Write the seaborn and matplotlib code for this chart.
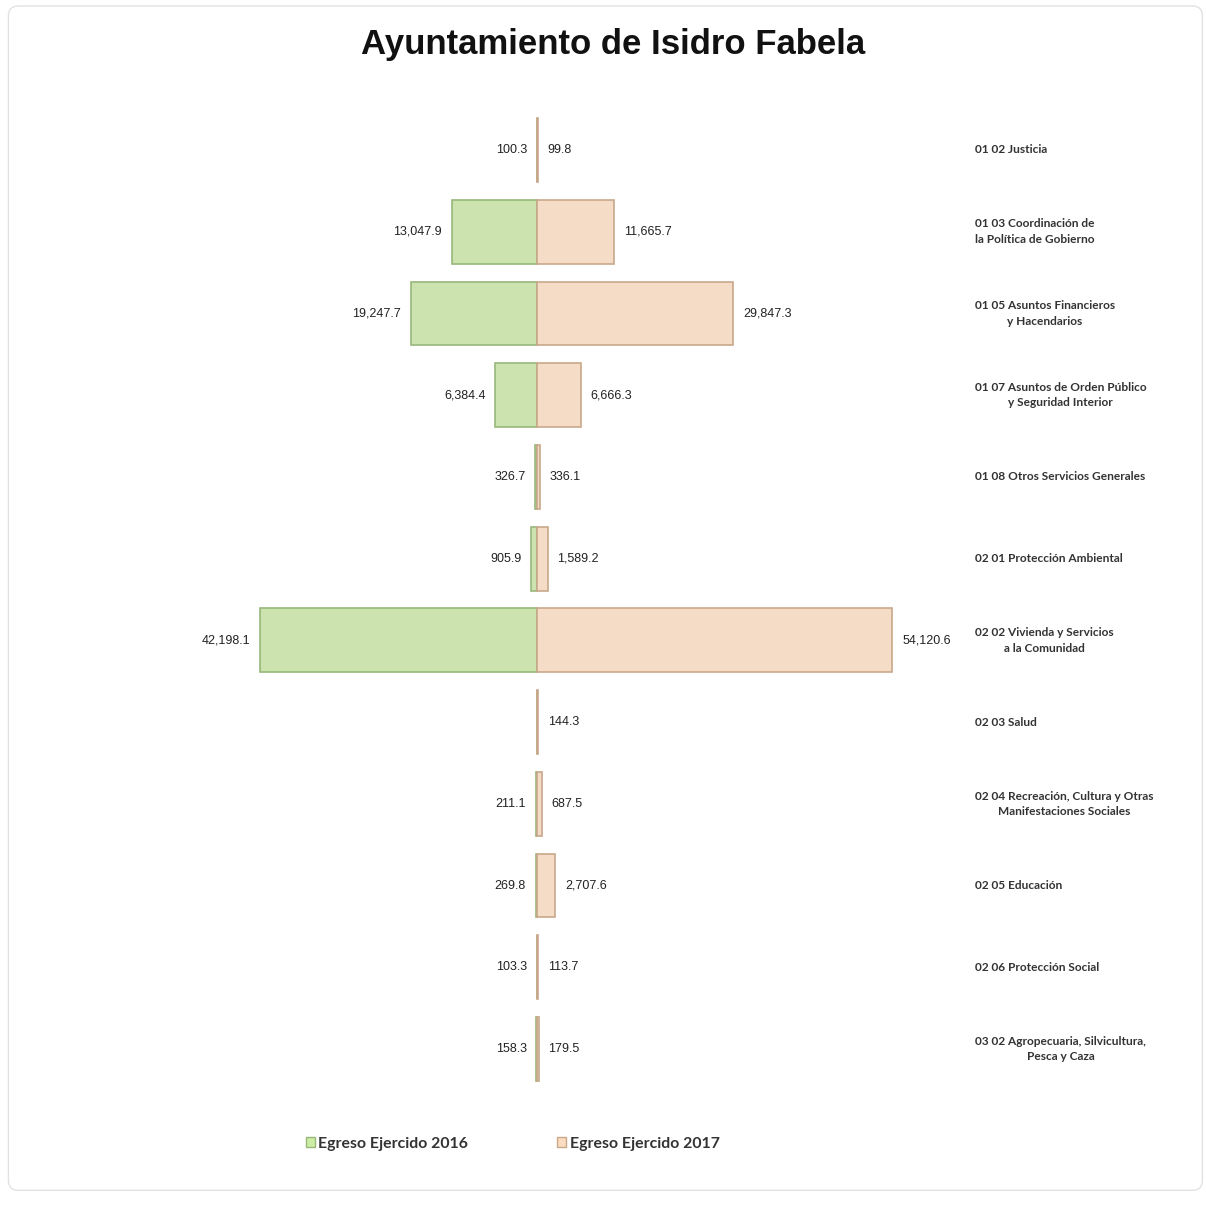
import numpy as np
import pandas as pd
import matplotlib
matplotlib.use("Agg")
import matplotlib.pyplot as plt
import seaborn as sns
from matplotlib.patches import FancyBboxPatch

# datos de la gráfica
categorias = ["01 02 Justicia",
              "01 03 Coordinación de\nla Política de Gobierno",
              "01 05 Asuntos Financieros\ny Hacendarios",
              "01 07 Asuntos de Orden Público\ny Seguridad Interior",
              "01 08 Otros Servicios Generales",
              "02 01 Protección Ambiental",
              "02 02 Vivienda y Servicios\na la Comunidad",
              "02 03 Salud",
              "02 04 Recreación, Cultura y Otras\nManifestaciones Sociales",
              "02 05 Educación",
              "02 06 Protección Social",
              "03 02 Agropecuaria, Silvicultura,\nPesca y Caza"]
egreso_2016 = [100.3, 13047.9, 19247.7, 6384.4, 326.7, 905.9, 42198.1, 0.0, 211.1, 269.8, 103.3, 158.3]
egreso_2017 = [99.8, 11665.7, 29847.3, 6666.3, 336.1, 1589.2, 54120.6, 144.3, 687.5, 2707.6, 113.7, 179.5]
series = ["Egreso Ejercido 2016", "Egreso Ejercido 2017"]

sns.set_style("white")
plt.rcParams['font.family'] = ['Liberation Sans', 'DejaVu Sans']

df = pd.DataFrame({
    'cat': categorias * 2,
    'serie': [series[0]] * len(categorias) + [series[1]] * len(categorias),
    'valor': [-v for v in egreso_2016] + egreso_2017,
})

fig = plt.figure(figsize=(12.06, 12.06), dpi=100)
ax = fig.add_axes([0.2007, 0.0962, 0.5713, 0.8134])

colores = {series[0]: '#cdeca6', series[1]: '#fbdcc0'}
bordes = ['#98b87a', '#c9a88a']
sns.barplot(data=df, y='cat', x='valor', hue='serie', dodge=False, orient='h',
            palette=colores, width=0.78, ax=ax, legend=False)

for i, cont in enumerate(ax.containers):
    for p in cont:
        p.set_edgecolor(bordes[i])
        p.set_linewidth(1.2)
    vals = egreso_2016 if i == 0 else egreso_2017
    etiquetas = [f"{v:,.1f}" if v > 0 else "" for v in vals]
    ax.bar_label(cont, labels=etiquetas, padding=7, fontsize=9, color='#222222')

ax.set_xlim(-45000, 60000)
ax.set_ylim(len(categorias) - 0.5, -0.5)
ax.set_xticks([])
ax.set_yticks([])
ax.set_xlabel("")
ax.set_ylabel("")
sns.despine(ax=ax, left=True, bottom=True)

# etiquetas de categoria a la derecha
for i, c in enumerate(categorias):
    ax.text(1.0639, i, c, transform=ax.get_yaxis_transform(), ha='left', va='center',
            multialignment='center', fontsize=8.6, fontweight='bold', color='#333333',
            family=['Lato', 'DejaVu Sans'], linespacing=1.5)

fig.text(0.508, 0.9627, "Ayuntamiento de Isidro Fabela", ha='center', va='center',
         fontsize=25, fontweight='bold', color='#111111')

handles = [plt.Rectangle((0, 0), 1, 1, facecolor=colores[s], edgecolor=bordes[k])
           for k, s in enumerate(series)]
fig.legend(handles, series, loc='center', bbox_to_anchor=(0.425, 0.0515), ncol=2,
           frameon=False, handlelength=0.6, handleheight=0.6, handletextpad=0.2,
           columnspacing=5.6, prop={'family': ['Lato', 'DejaVu Sans'], 'size': 11.4, 'weight': 'bold'},
           labelcolor='#333333')

marco = FancyBboxPatch((0.007, 0.013), 0.99, 0.982, boxstyle="round,pad=0,rounding_size=0.008",
                       transform=fig.transFigure, facecolor='none', edgecolor='#e2e2e2', linewidth=1)
fig.patches.append(marco)

fig.savefig('out.png', dpi=100)
